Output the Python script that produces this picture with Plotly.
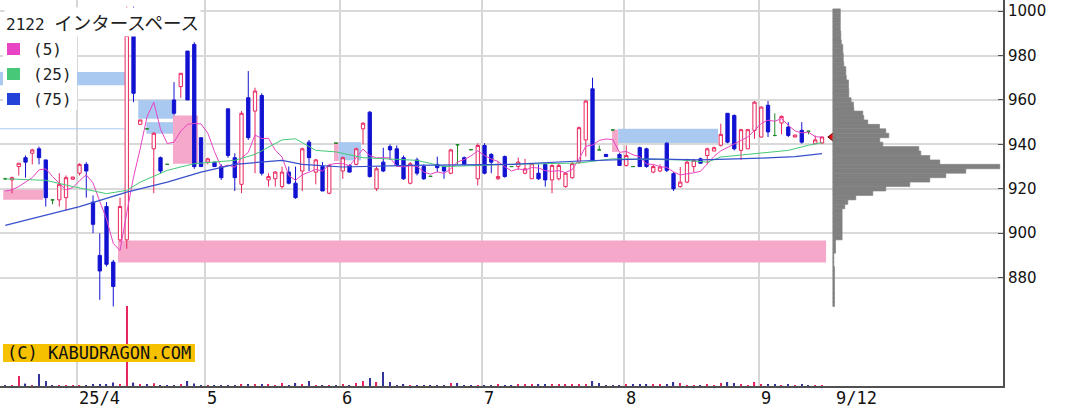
import plotly.graph_objects as go
import pandas as pd

# ---------------- data ----------------
opens = [924.5, 924, 930, 934, 936, 938, 933, 915, 915, 916,
         924.3, 927, 931, 914, 890, 912, 887, 897, 897, 990,
         949, 947, 938, 934, 931, 960, 966, 982, 985, 943,
         932, 932, 930, 956, 934, 922, 961, 955, 962, 924,
         924.5, 921, 927.5, 922.5, 928, 941, 927.5, 930, 918, 940.5,
         928, 930.5, 931, 947, 954.5, 920, 932, 939, 938, 934,
         922.5, 933, 930, 925.6, 931, 930, 927, 939.8, 934, 937.6,
         924.5, 939.5, 935.5, 924.5, 934.5, 930, 930, 927, 924.5, 927,
         931, 924, 924.5, 921, 925, 932, 942, 965, 937.5, 935.5,
         946.5, 935.5, 930.5, 930, 938.5, 938, 927.5, 928, 940.5, 926.8,
         921, 923, 930, 933.5, 935, 937, 939.6, 954, 953, 937.3,
         938, 946.3, 943.3, 957.6, 944, 949.6, 947.8, 943.3, 946.3, 945.9,
         940.3, 940.6]
highs = [925, 925.5, 931.5, 935, 938, 939, 933, 915, 927, 926,
         925.3, 931.5, 932, 917, 900, 914, 888, 916, 1002, 1002,
         951, 947, 945.5, 934.5, 931, 968, 972, 982, 986, 943,
         934, 932, 931, 956, 936, 955, 973, 965.5, 963, 927,
         928, 930, 930, 930, 938.5, 942, 933.5, 932, 931, 940.5,
         934.5, 931, 938.5, 950, 955, 930, 938.5, 940, 939.5, 935,
         932, 934, 931, 925.6, 934.5, 930.5, 938, 940, 934.5, 937.6,
         940.5, 940.5, 936, 932, 935, 930, 934, 933.5, 931.5, 931,
         931.5, 931, 931.5, 927.5, 932, 948, 960, 970, 939.5, 935.5,
         946.5, 936, 939.5, 930, 939, 938.5, 931, 931, 941, 927.5,
         929.8, 933.5, 933.5, 934, 938.5, 939, 949.3, 954, 953.5, 947,
         947, 959.5, 957, 959.5, 954, 953, 950, 944.2, 950, 945.9,
         944, 943.5]
lows = [924, 918, 926, 925, 931, 931, 912, 913, 912, 910,
        924, 926, 916, 900, 870, 885, 867, 896, 893, 959,
        949, 947, 918, 927, 931, 953, 961, 960, 929, 930,
        931, 930, 924, 934, 919, 918, 942, 927, 926, 921,
        921, 920, 922, 915.5, 919, 928, 922, 919, 917.5, 940.5,
        924.5, 927.5, 930.5, 940, 925, 919, 927.5, 933, 930, 924,
        922, 926, 924, 925.6, 927.5, 924.5, 926.5, 931, 930.5, 937.6,
        921.5, 926.5, 927, 924, 925, 930, 928.5, 926.5, 924.5, 924,
        921, 918, 923.8, 920.5, 924.5, 931.3, 934.5, 932.5, 937.5, 934.5,
        946.5, 930.5, 930, 930, 929.8, 929.5, 927, 927.5, 927.5, 919,
        920.5, 922.5, 927.5, 931.5, 931, 937, 939, 940.5, 937.3, 933,
        938, 942.5, 943, 943.3, 943.6, 944.5, 943.3, 943.3, 940.3, 944.5,
        940.3, 940.3]
closes = [924.5, 925, 931.5, 932, 937.5, 934, 916, 915, 922, 925,
          925.3, 931, 928, 904, 883, 886, 876, 912, 989, 963,
          951, 947, 945, 928, 931, 954, 972, 960, 930, 930,
          933.5, 930, 925, 935, 925, 954, 943, 964, 927, 925.5,
          927.5, 927.5, 922.5, 916, 938, 934, 933, 919, 930.5, 940.5,
          934, 927.5, 938, 949.5, 925.5, 929, 928, 937.5, 930.5, 924.5,
          931.3, 927, 924.5, 925.6, 929.5, 928, 937.5, 939.8, 931, 937.6,
          939.5, 927, 932, 925.5, 925.5, 930, 932, 929, 931.3, 924.5,
          924, 930.5, 930.5, 927, 931.3, 947.5, 959.5, 933, 937.5, 934.5,
          946.5, 930.5, 935, 930, 930, 930, 930, 929.8, 928.3, 920,
          923, 932, 932.8, 931.5, 938, 938.5, 944.5, 941, 938, 946.6,
          946.6, 959, 956.8, 945.6, 944, 952.6, 944, 944.2, 941, 945.9,
          942, 943.3]
volume = [1, 1, 10, 2.4, 1, 12, 5, 1, 1, 1,
          1, 1, 1, 2, 1.5, 1.5, 3.4, 1.5, 80, 3.4,
          1.5, 1.5, 2.7, 1, 1, 1, 1.5, 5, 2.5, 1,
          1, 1, 1, 1, 1, 2, 2, 2, 2, 2,
          1, 3, 1, 3, 2, 5, 1, 1, 1, 1,
          2, 1, 3, 5, 8, 4, 14, 4, 1, 2,
          1, 1, 1, 1, 1, 1, 3, 3, 1, 1,
          1, 1, 1, 2, 1, 1, 2, 1.5, 1.5, 1.5,
          1.5, 1.5, 1.5, 1.5, 1.5, 1.5, 2, 5, 3, 1,
          1, 1, 1.5, 2, 2, 2, 1.5, 1.5, 1.5, 4,
          3, 1, 1, 1, 2, 1, 3, 4, 3, 2,
          1, 4, 2, 2, 1.5, 1, 1.5, 1, 1.5, 1,
          1, 1]

ma5_val = [919, 919.5, 921, 923, 925, 928.5, 929, 925.5, 922.5, 919.5,
           920.5]
ma25_idx = [0, 6, 10, 15, 18, 20, 24, 28, 34, 37, 41, 43, 46, 49, 53, 61, 65,
            75, 85, 90, 100, 104, 106, 111, 116, 119, 121]
ma25_val = [924.5, 923.8, 921, 917.8, 919.3, 923, 928.3, 931.3, 932.8, 935.5,
            942, 942.5, 937.3, 936.6, 934, 932.8, 930, 931, 931.6, 933.5, 933,
            932, 934.3, 935.8, 937.3, 939.6, 940.8]
ma75_idx = [0, 11, 18, 24, 29, 34, 41, 44, 50, 60, 75, 85, 95, 103, 112, 117, 121]
ma75_val = [903.5, 912, 918.5, 923, 927.5, 931, 932.8, 931, 929.8, 930.5, 931,
            932.5, 933.5, 933, 933.8, 934.5, 935.8]

month_start_idx = [11, 30, 50, 71, 92, 112]
month_labels = ["25/4", "5", "6", "7", "8", "9"]
last_label = "9/12"

price_ticks = [880, 900, 920, 940, 960, 980, 1000]

pv_price = list(range(1000, 866, -2))
pv_vol = [7.5, 7.5, 7.5, 7.5, 7.5, 8, 8, 8.5, 10, 10,
          10.5, 10.5, 11, 13, 13, 13.5, 15.7, 15.7, 16, 16,
          18.3, 20.7, 21, 30, 31, 35, 46.7, 53, 56, 47,
          50, 86, 88, 97, 107, 167, 133, 113, 97, 77,
          53, 40, 23, 15, 12, 9.3, 9.3, 9.3, 9.3, 9.3,
          9.3, 9.3, 2.7, 2.7, 2.7, 1, 1, 1, 1.7, 1.7,
          1.7, 1.7, 1.7, 1.7, 1.7, 1.7, 1.7]

# zones (windows) drawn as boxes
box_x0 = [-1.5, 19.7, 20.9, 24.85, -0.3, 16.7, 48.7, 49.4, 89.9, 90.8]
box_x1 = [17.7, 24.85, 24.85, 28.55, 5.6, 121.6, 49.4, 52.7, 90.8, 105.6]
box_y0 = [966.6, 951.5, 944.8, 931.3, 915.1, 886.8, 932.5, 932.8, 936.6, 940.6]
box_y1 = [972.6, 960, 950, 953, 919.6, 896.7, 941, 941, 946.6, 947]
box_kind = ["blue", "blue", "blue", "pink", "pink", "pink", "pink", "blue", "pink", "blue"]
hline_y = [947]
hline_x0 = [-1.5]
hline_x1 = [17.7]

# ---------------- styling ----------------
RED = "#e8245c"
BLUE = "#1212d2"
GREEN = "#1f8a2a"
PINK_BOX = "#f5a8c9"
BLUE_BOX = "#aac9f1"
MA5_C = "#e844c4"
MA25_C = "#46c878"
MA75_C = "#3650cc"
MONO = "DejaVu Sans Mono"

W, H = 1080, 410
ML, MR, MT, MB = 0, 77, 0, 24
PW, PH = W - ML - MR, H - MT - MB


def px_x(px):
    return px / PW


def px_y(py):
    return 1 - py / PH


n = len(closes)
idx = list(range(n))
up = [i for i in idx if closes[i] > opens[i]]
dn = [i for i in idx if closes[i] < opens[i]]
dj = [i for i in idx if closes[i] == opens[i]]


def sub(arr, ids):
    return [arr[i] for i in ids]


fig = go.Figure()

# volume bars
vol_colors = [RED if closes[i] > opens[i] else "#34349a" for i in idx]
fig.add_trace(go.Bar(x=idx, y=volume, width=0.18, marker=dict(color=vol_colors, line_width=0),
                     yaxis="y2", showlegend=False, hoverinfo="skip"))

# volume profile
fig.add_trace(go.Bar(y=pv_price, x=pv_vol, orientation="h", width=2,
                     marker=dict(color="#808080", line=dict(color="#808080", width=0.6)),
                     xaxis="x2", showlegend=False, hoverinfo="skip"))

# moving averages (MA5: first values, rest is the 5-day mean of closes)
ma5 = list(ma5_val) + list(pd.Series(closes).rolling(5).mean()[len(ma5_val):])
fig.add_trace(go.Scatter(x=idx, y=ma5, mode="lines", line=dict(color=MA5_C, width=1), showlegend=False))
fig.add_trace(go.Scatter(x=ma25_idx, y=ma25_val, mode="lines", line=dict(color=MA25_C, width=1), showlegend=False))
fig.add_trace(go.Scatter(x=ma75_idx, y=ma75_val, mode="lines", line=dict(color=MA75_C, width=1.2), showlegend=False))

# candles
for ids, lc, fc in [(up, RED, "white"), (dn, BLUE, BLUE), (dj, GREEN, GREEN)]:
    fig.add_trace(go.Candlestick(
        x=ids, open=sub(opens, ids), high=sub(highs, ids), low=sub(lows, ids), close=sub(closes, ids),
        increasing=dict(line=dict(color=lc, width=1), fillcolor=fc),
        decreasing=dict(line=dict(color=lc, width=1), fillcolor=fc),
        whiskerwidth=0, showlegend=False))

# last price marker
fig.add_trace(go.Scatter(x=[n + 0.6], y=[closes[-1]], mode="markers",
                         marker=dict(symbol="triangle-left", size=10, color="#ee1111",
                                     line=dict(color="#5a0a0a", width=1)),
                         showlegend=False))

shapes = []
for x0, x1, y0, y1, k in zip(box_x0, box_x1, box_y0, box_y1, box_kind):
    shapes.append(dict(type="rect", xref="x", yref="y", x0=x0, x1=x1, y0=y0, y1=y1,
                       fillcolor=PINK_BOX if k == "pink" else BLUE_BOX, line_width=0, layer="between"))
for yv, x0, x1 in zip(hline_y, hline_x0, hline_x1):
    shapes.append(dict(type="line", xref="x", yref="y", x0=x0, x1=x1, y0=yv, y1=yv,
                       line=dict(color=BLUE_BOX, width=1), layer="between"))

# legend panel
shapes.append(dict(type="rect", xref="paper", yref="paper", x0=px_x(3), x1=px_x(77),
                   y0=px_y(110), y1=px_y(34), fillcolor="white", line_width=0, layer="above"))
leg_colors = [MA5_C, MA25_C, "#2343d8"]
leg_text = ["(5)", "(25)", "(75)"]
leg_y = [49, 74, 99]
annotations = []
for c, t, yy in zip(leg_colors, leg_text, leg_y):
    shapes.append(dict(type="rect", xref="paper", yref="paper", x0=px_x(7), x1=px_x(20),
                       y0=px_y(yy + 6), y1=px_y(yy - 6), fillcolor=c, line_width=0, layer="above"))
    annotations.append(dict(xref="paper", yref="paper", x=px_x(31), y=px_y(yy), text=t,
                            showarrow=False, xanchor="left", yanchor="middle",
                            font=dict(family=MONO, size=16, color="#222")))

annotations.append(dict(xref="paper", yref="paper", x=px_x(4), y=px_y(22),
                        text="2122 <span style=\"font-family:'Noto Sans CJK JP';font-size:18.5px\">"
                             "インタースペース</span>",
                        showarrow=False, xanchor="left", yanchor="middle",
                        bgcolor="white",
                        font=dict(family=MONO + ", Noto Sans CJK JP", size=16, color="#222")))

# copyright label
shapes.append(dict(type="rect", xref="paper", yref="paper", x0=px_x(3), x1=px_x(195),
                   y0=px_y(362), y1=px_y(344), fillcolor="#f6c200", line_width=0, layer="above"))
annotations.append(dict(xref="paper", yref="paper", x=px_x(99), y=px_y(353),
                        text="(C) KABUDRAGON.COM", showarrow=False, xanchor="center", yanchor="middle",
                        font=dict(family=MONO, size=17, color="#111")))

grid_x = [m - 0.4 for m in month_start_idx]
for gx, lab in zip(grid_x, month_labels):
    annotations.append(dict(xref="x", yref="paper", x=gx, y=0, text=lab, showarrow=False,
                            xanchor="left", yanchor="top", yshift=0, xshift=0,
                            font=dict(family=MONO, size=17, color="#111")))
annotations.append(dict(xref="x", yref="paper", x=n + 0.8, y=0, text=last_label, showarrow=False,
                        xanchor="left", yanchor="top", yshift=0,
                        font=dict(family=MONO, size=17, color="#111")))

x_lo = -0.78
x_hi = x_lo + PW / 6.75
fig.update_layout(
    width=W, height=H, margin=dict(l=ML, r=MR, t=MT, b=MB),
    paper_bgcolor="white", plot_bgcolor="white", template="none",
    showlegend=False,
    xaxis=dict(range=[x_lo, x_hi], tickvals=grid_x, showticklabels=False, ticks="",
               showgrid=True, gridcolor="#d6d6d6", gridwidth=1.5, zeroline=False,
               showline=True, linecolor="#505050", linewidth=2, rangeslider=dict(visible=False),
               fixedrange=True),
    xaxis2=dict(overlaying="x", range=[-(122.6 - x_lo) * 6.75, (x_hi - 122.6) * 6.75],
                visible=False, fixedrange=True),
    yaxis=dict(side="right", range=[831.2, 1005], tickvals=price_ticks,
               ticktext=[str(v) for v in price_ticks],
               showgrid=True, gridcolor="#d9d9d9", gridwidth=1.5, zeroline=False,
               showline=True, linecolor="#505050", linewidth=2,
               ticks="inside", ticklen=5, tickcolor="#505050",
               tickfont=dict(family="DejaVu Sans", size=15, color="#111")),
    yaxis2=dict(overlaying="y", range=[0, PH], visible=False, fixedrange=True),
    shapes=shapes, annotations=annotations,
)

fig.write_html("out.html", config={"displayModeBar": False},
               post_script="document.body.style.margin='0';document.body.style.overflow='hidden';")
